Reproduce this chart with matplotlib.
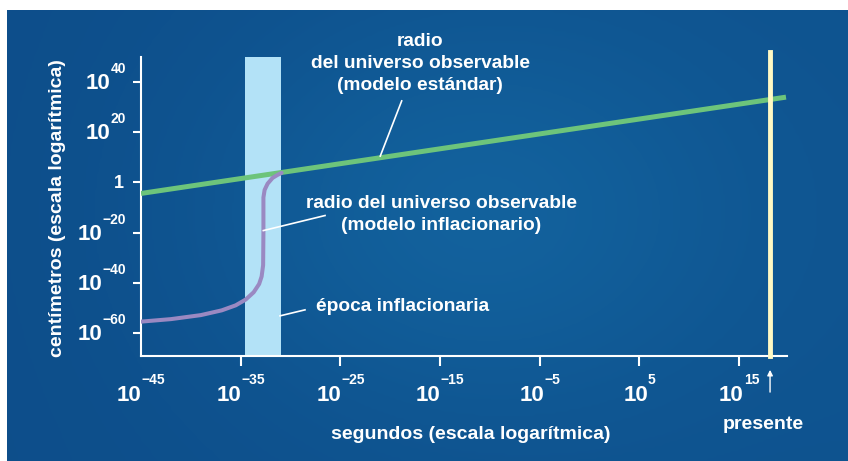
import numpy as np
import matplotlib.pyplot as plt
from matplotlib.colors import LinearSegmentedColormap

plt.rcParams['font.family'] = ['Liberation Sans', 'DejaVu Sans']
plt.rcParams['font.weight'] = 'bold'

# datos en exponentes (log10)
std_t = [-45, 19.7]
std_r = [-4.4, 34.0]
inf_t = [-45, -42, -39, -36.9, -35.5, -34.5, -33.7, -33.15, -32.9, -32.75,
         -32.72, -32.72, -32.6, -32.3, -31.8, -31.3, -30.9]
inf_r = [-55.5, -54.5, -52.9, -51.0, -49.0, -46.7, -43.8, -40.5, -37.5, -33,
         -20, -6, -3, -0.5, 1.8, 3.0, 3.8]
epoca = [-34.6, -31.0]
presente = 18.1
xtick_exp = [-45, -35, -25, -15, -5, 5, 15]
ytick_exp = [40, 20, 0, -20, -40, -60]

PT = 0.72  # puntos por pixel a 100 dpi

fig = plt.figure(figsize=(8.48, 4.61), dpi=100)
fig.patch.set_facecolor('white')

# fondo azul
bg = fig.add_axes([7 / 848, 0, 841 / 848, 451 / 461])
bg.axis('off')
yy, xx = np.mgrid[0:1:200j, 0:1:400j]
val = 0.25 + 0.5 * np.exp(-((xx - 0.55) ** 2 / 0.1 + (yy - 0.45) ** 2 / 0.2)) + 0.15 * xx
cmap = LinearSegmentedColormap.from_list('fondo', ['#0b4683', '#1467a2'])
bg.imshow(np.clip(val, 0, 1), cmap=cmap, vmin=0, vmax=1, aspect='auto',
          interpolation='bicubic')

ax = fig.add_axes([141 / 848, 105 / 461, 646 / 848, 299 / 461])
ax.set_facecolor('none')
ax.set_xscale('log')
ax.set_yscale('log')
ax.set_xlim(10.0 ** -45, 10.0 ** 19.8)
ax.set_ylim(10.0 ** -69.2, 10.0 ** 50)

ax.axvspan(10.0 ** epoca[0], 10.0 ** epoca[1], color='#b3e2f7', lw=0, zorder=1)
ax.plot(10.0 ** np.array(std_t), 10.0 ** np.array(std_r), color='#6dc47b',
        lw=3.6, solid_capstyle='butt', zorder=3)
ax.plot(10.0 ** np.array(inf_t), 10.0 ** np.array(inf_r), color='#9a89c2',
        lw=2.9, solid_capstyle='round', solid_joinstyle='round', zorder=4)
ax.axvline(10.0 ** presente, ymin=0, ymax=(52 + 69.2) / 119.2, color='#fff9c4',
           lw=3.5, clip_on=False, zorder=5)

for s in ['top', 'right']:
    ax.spines[s].set_visible(False)
for s in ['left', 'bottom']:
    ax.spines[s].set_color('white')
    ax.spines[s].set_linewidth(1.5)

ax.xaxis.set_minor_locator(plt.NullLocator())
ax.yaxis.set_minor_locator(plt.NullLocator())
ax.set_xticks(10.0 ** np.array(xtick_exp[1:]))
ax.set_yticks(10.0 ** np.array(ytick_exp))
ax.set_xticklabels([])
ax.set_yticklabels([])
ax.tick_params(axis='x', direction='out', length=7, width=1.5, color='white')
ax.tick_params(axis='y', direction='out', length=6, width=1.5, color='white')

w10 = 1.112 * 16 / PT


def exp_width(s):
    return (0.584 * s.count('\u2212') + 0.556 * sum(c.isdigit() for c in s)) * 10 / PT


for e in xtick_exp:
    s = str(e).replace('-', '\u2212')
    off = (w10 - exp_width(s)) / 2
    ax.annotate('10', xy=(10.0 ** e, 0), xycoords=('data', 'axes fraction'),
                xytext=(off * PT, -45 * PT), textcoords='offset points',
                ha='right', va='baseline', fontsize=16, color='white',
                annotation_clip=False)
    ax.annotate(s, xy=(10.0 ** e, 0), xycoords=('data', 'axes fraction'),
                xytext=(off * PT, -28 * PT), textcoords='offset points',
                ha='left', va='baseline', fontsize=10, color='white',
                annotation_clip=False)

for e in ytick_exp:
    if e == 0:
        ax.annotate('1', xy=(0, 1), xycoords=('axes fraction', 'data'),
                    xytext=(-17 * PT, -6 * PT), textcoords='offset points',
                    ha='right', va='baseline', fontsize=13, color='white',
                    annotation_clip=False)
        continue
    s = str(e).replace('-', '\u2212')
    we = exp_width(s)
    ax.annotate(s, xy=(0, 10.0 ** e), xycoords=('axes fraction', 'data'),
                xytext=(-15 * PT, 9 * PT), textcoords='offset points',
                ha='right', va='baseline', fontsize=10, color='white',
                annotation_clip=False)
    ax.annotate('10', xy=(0, 10.0 ** e), xycoords=('axes fraction', 'data'),
                xytext=(-(15 + we) * PT, -7 * PT), textcoords='offset points',
                ha='right', va='baseline', fontsize=16, color='white',
                annotation_clip=False)

txt = dict(color='white', fontsize=13.8, fontweight='bold', linespacing=1.38)
ax.text(10.0 ** -17.0, 10.0 ** 47.4,
        'radio\ndel universo observable\n(modelo estándar)',
        ha='center', va='center', multialignment='center', clip_on=False, **txt)
ax.text(10.0 ** -14.9, 10.0 ** -12.8,
        'radio del universo observable\n(modelo inflacionario)',
        ha='center', va='center', multialignment='center', **txt)
ax.text(10.0 ** -27.45, 10.0 ** -49.5, 'época inflacionaria',
        ha='left', va='center', **txt)

# líneas indicadoras
for (x0, y0), (x1, y1) in [((-18.85, 32.5), (-21.0, 10.5)),
                           ((-26.54, -13.2), (-32.73, -19.2)),
                           ((-28.55, -50.8), (-31.06, -53.2))]:
    ax.plot([10.0 ** x0, 10.0 ** x1], [10.0 ** y0, 10.0 ** y1], color='white',
            lw=1.2, zorder=6, clip_on=False)

ax.annotate('', xy=(10.0 ** presente, -0.037), xycoords=('data', 'axes fraction'),
            xytext=(10.0 ** presente, -0.130), textcoords=('data', 'axes fraction'),
            arrowprops=dict(arrowstyle='-|>', color='white', lw=1.0,
                            mutation_scale=8), annotation_clip=False)

fig.text(57.7 / 848, 1 - 208 / 461, 'centímetros (escala logarítmica)',
         rotation=90, ha='center', va='center', color='white', fontsize=14)
fig.text(471 / 848, 1 - 434 / 461, 'segundos (escala logarítmica)',
         ha='center', va='center', color='white', fontsize=14)
fig.text(763.5 / 848, 1 - 424 / 461, 'presente',
         ha='center', va='center', color='white', fontsize=14)

fig.savefig('out.png', dpi=100)
